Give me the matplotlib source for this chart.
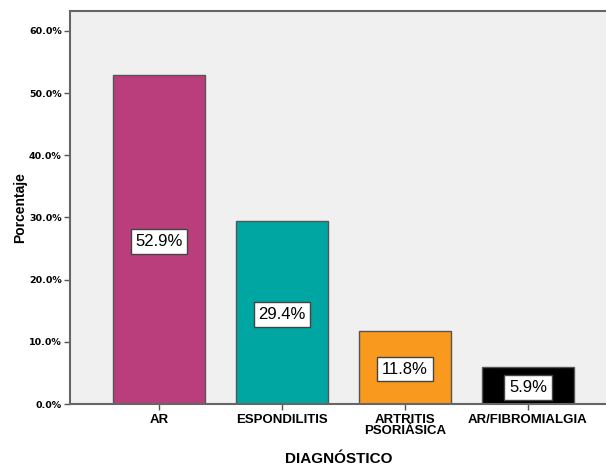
import matplotlib
matplotlib.use("Agg")
import matplotlib.pyplot as plt
from matplotlib.ticker import FuncFormatter

# datos del grafico
categorias = ["AR", "ESPONDILITIS", "ARTRITIS\nPSORIÁSICA", "AR/FIBROMIALGIA"]
porcentajes = [52.9, 29.4, 11.8, 5.9]
colores = ["#B93E7B", "#00A6A1", "#F99A1E", "#000000"]
yticks = [0, 10, 20, 30, 40, 50, 60]

fig = plt.figure(figsize=(6.06, 4.65), dpi=100)
ax = fig.add_axes([70 / 606, 61 / 465, 1 - 70 / 606 + 0.002, 393 / 465])
ax.set_facecolor("#F0F0F0")

pos = list(range(len(categorias)))
barras = ax.bar(pos, porcentajes, width=0.754, color=colores,
                edgecolor="#555555", linewidth=1.0)

# etiquetas en el centro de cada barra
for x, v in zip(pos, porcentajes):
    ax.text(x, v / 2 - 0.3, "%.1f%%" % v, ha="center", va="center",
            fontsize=12, family="Liberation Sans", color="black",
            bbox=dict(boxstyle="square,pad=0.28", facecolor="white",
                      edgecolor="#444444", linewidth=1.0))

ax.set_xlim(-0.725, 3.645)
ax.set_ylim(0, 63.2)
ax.set_yticks(yticks)
ax.yaxis.set_major_formatter(FuncFormatter(lambda v, p: "%.1f%%" % v))
ax.set_xticks(pos)
ax.set_xticklabels(categorias, fontsize=9.5, fontweight="bold",
                   family="Liberation Sans", linespacing=0.9)
for lab in ax.get_yticklabels():
    lab.set_fontsize(6.8)
    lab.set_fontweight("bold")
    lab.set_family("DejaVu Sans")

ax.tick_params(axis="y", length=4, width=1, color="#555555", pad=2)
ax.tick_params(axis="x", length=4, width=1, color="#555555", pad=3)

for s in ["left", "bottom", "top"]:
    ax.spines[s].set_color("#666666")
    ax.spines[s].set_linewidth(1.5)
ax.spines["right"].set_visible(False)

ax.set_xlabel("DIAGNÓSTICO", fontsize=11, fontweight="bold",
              family="Liberation Sans", labelpad=11)
ax.set_ylabel("Porcentaje", fontsize=10, fontweight="bold",
              family="Liberation Sans", labelpad=1)

fig.savefig("out.png", dpi=100)
